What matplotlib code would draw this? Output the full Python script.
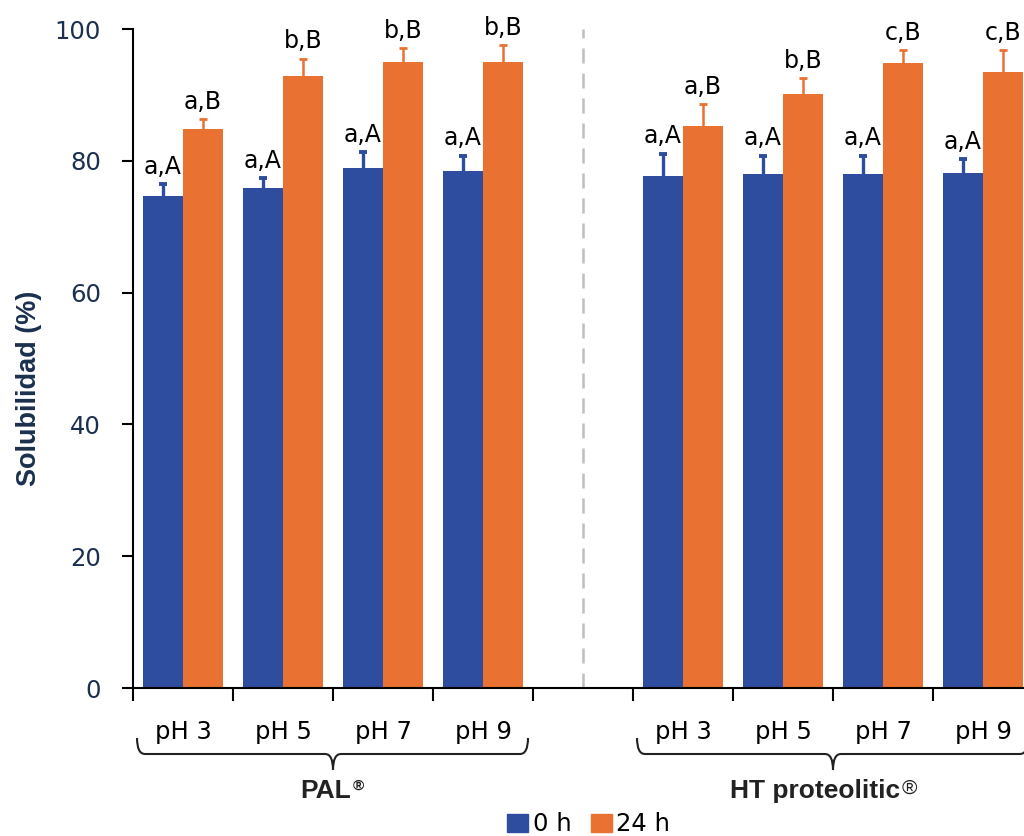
import matplotlib.pyplot as plt
from matplotlib.path import Path
from matplotlib.patches import PathPatch, Patch
from matplotlib.transforms import blended_transform_factory

plt.rcParams['font.family'] = ['DejaVu Sans']

# Data
groups = ["PAL", "HT proteolitic"]
ph_labels = ["pH 3", "pH 5", "pH 7", "pH 9"]

pal_0h = [74.7, 75.8, 78.9, 78.5]
pal_0h_err = [1.8, 1.6, 2.4, 2.3]
pal_24h = [84.8, 92.8, 95.0, 95.0]
pal_24h_err = [1.5, 2.7, 2.1, 2.5]

ht_0h = [77.7, 78.0, 78.0, 78.2]
ht_0h_err = [3.4, 2.8, 2.8, 2.1]
ht_24h = [85.3, 90.2, 94.8, 93.5]
ht_24h_err = [3.3, 2.3, 2.0, 3.3]

pal_0h_letters = ["a,A", "a,A", "a,A", "a,A"]
pal_24h_letters = ["a,B", "b,B", "b,B", "b,B"]
ht_0h_letters = ["a,A", "a,A", "a,A", "a,A"]
ht_24h_letters = ["a,B", "b,B", "c,B", "c,B"]

blue = "#2E4D9E"
orange = "#E97132"
navy = "#1B2F4F"
bold_font = ['Liberation Sans', 'DejaVu Sans']

fig = plt.figure(figsize=(10.24, 8.36), dpi=100)
ax = fig.add_axes([0.1299, 0.177, 0.8701, 0.7883])

w = 0.4
# slot positions: PAL in slots 0-3, gap slot 4, HT in slots 5-8
pal_x = [i + 0.5 for i in range(4)]
ht_x = [i + 5.5 for i in range(4)]

series = [
    (pal_x, pal_0h, pal_0h_err, pal_0h_letters, pal_24h, pal_24h_err, pal_24h_letters),
    (ht_x, ht_0h, ht_0h_err, ht_0h_letters, ht_24h, ht_24h_err, ht_24h_letters),
]

for xs, v0, e0, l0, v24, e24, l24 in series:
    x0 = [x - w / 2 for x in xs]
    x24 = [x + w / 2 for x in xs]
    ax.bar(x0, v0, width=w, color=blue, zorder=2)
    ax.bar(x24, v24, width=w, color=orange, zorder=2)
    eb = ax.errorbar(x0, v0, yerr=[[0] * 4, e0], fmt='none', ecolor=blue,
                     elinewidth=2.4, capsize=3, capthick=2.8, zorder=3)
    eb[1][0].set_visible(False)
    eb = ax.errorbar(x24, v24, yerr=[[0] * 4, e24], fmt='none', ecolor=orange,
                     elinewidth=1.8, capsize=3, capthick=2, zorder=3)
    eb[1][0].set_visible(False)
    for x, v, e, t in zip(x0, v0, e0, l0):
        ax.text(x, v + e + 0.8, t, ha='center', va='bottom', fontsize=17, color='black')
    for x, v, e, t in zip(x24, v24, e24, l24):
        ax.text(x, v + e + 0.8, t, ha='center', va='bottom', fontsize=17, color='black')

# dashed separator
ax.axvline(4.5, ymin=0, ymax=1, color='#BFBFBF', ls=(0, (6, 4)), lw=1.8, zorder=1)

ax.set_xlim(0, 8.91)
ax.set_ylim(0, 100)
ax.set_yticks([0, 20, 40, 60, 80, 100])
ax.tick_params(axis='y', labelsize=17.5, labelcolor=navy, length=8, width=1.5, pad=15)
ax.set_xticks([0, 1, 2, 3, 4, 5, 6, 7, 8])
ax.set_xticklabels([])
ax.tick_params(axis='x', length=9, width=1.5)
ax.set_xticks(pal_x + ht_x, minor=True)
ax.set_xticklabels(ph_labels + ph_labels, minor=True, fontsize=17.5)
ax.tick_params(axis='x', which='minor', length=0, pad=23)

for s in ['top', 'right']:
    ax.spines[s].set_visible(False)
ax.spines['left'].set_linewidth(1.5)
ax.spines['bottom'].set_linewidth(1.5)

ax.set_ylabel("Solubilidad (%)", fontsize=19.5, fontweight='bold', color=navy,
              family=bold_font)
ax.yaxis.set_label_coords(-0.102, 0.455)

# braces under each group
tr = blended_transform_factory(ax.transData, fig.transFigure)
yt, ym, yb = 1 - 738 / 836, 1 - 754 / 836, 1 - 770 / 836
d = 0.08


def brace(xa, xb, xc):
    verts = [(xa, yt), (xa, ym), (xa + d, ym), (xc - d, ym), (xc, ym), (xc, yb),
             (xc, ym), (xc + d, ym), (xb - d, ym), (xb, ym), (xb, yt)]
    codes = [Path.MOVETO, Path.CURVE3, Path.CURVE3, Path.LINETO, Path.CURVE3, Path.CURVE3,
             Path.CURVE3, Path.CURVE3, Path.LINETO, Path.CURVE3, Path.CURVE3]
    ax.add_patch(PathPatch(Path(verts, codes), fill=False, lw=1.5, color='#222222',
                           transform=tr, clip_on=False))


brace(0.04, 3.95, 2.0)
brace(5.04, 8.95, 7.0)

pal_t = ax.text(1.93, 1 - 791 / 836, "PAL", transform=tr, ha='center', va='center',
                fontsize=19, fontweight='bold', family=bold_font, color='#222222')
ax.annotate("®", xy=(1.0, 1.02), xycoords=pal_t, xytext=(1, 0), textcoords='offset points',
            ha='left', va='top', fontsize=11, fontweight='bold', family=bold_font,
            color='#222222')
ht_t = ax.text(6.82, 1 - 791 / 836, "HT proteolitic", transform=tr, ha='center', va='center',
               fontsize=19, fontweight='bold', family=bold_font, color='#222222')
ax.annotate("®", xy=(1.0, 1.0), xycoords=ht_t, xytext=(1, 0), textcoords='offset points',
            ha='left', va='top', fontsize=15, family=bold_font, color='#222222')

handles = [Patch(color=blue, label="0 h"), Patch(color=orange, label="24 h")]
fig.legend(handles=handles, loc='center', bbox_to_anchor=(0.575, 0.014), ncol=2,
           frameon=False, fontsize=17.5, handlelength=0.85, handleheight=0.75,
           handletextpad=0.2, columnspacing=0.8, borderpad=0, borderaxespad=0)

fig.savefig("out.png", dpi=100)
